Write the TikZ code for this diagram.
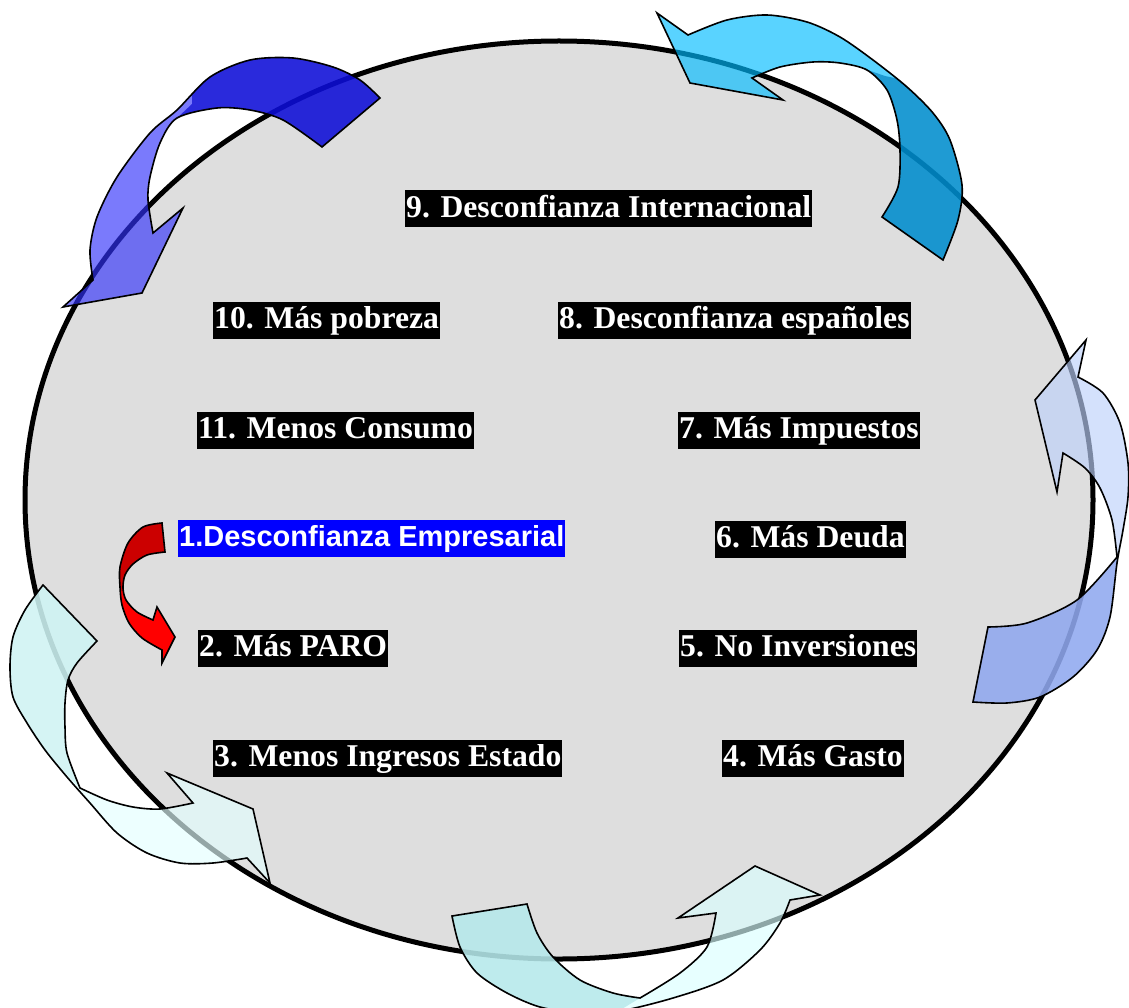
\documentclass[tikz,border=0pt]{standalone}
\usepackage{fontspec}
\setmainfont{Liberation Serif}
\setsansfont{Liberation Sans}
\definecolor{ellgray}{RGB}{222,222,222}
\definecolor{pureblue}{RGB}{0,0,255}
\definecolor{aTail}{RGB}{0,0,203}
\definecolor{aHead}{RGB}{50,50,251}
\definecolor{bTail}{RGB}{0,125,188}
\definecolor{bHead}{RGB}{0,188,255}
\definecolor{cTail}{RGB}{128,154,235}
\definecolor{cHead}{RGB}{189,209,251}
\definecolor{dTail}{RGB}{200,240,240}
\definecolor{dHead}{RGB}{228,255,255}
\definecolor{eTail}{RGB}{169,225,228}
\definecolor{eHead}{RGB}{218,255,255}
\definecolor{fTail}{RGB}{204,0,0}
\definecolor{fHead}{RGB}{255,0,0}
% outlines of the curved arrows, #1 = options of the path
\newcommand\arrowA[1]{\path[#1] (380,98) -- plot[smooth] coordinates {(380,98) (360,80) (333,67) (293,58) (250,60) (210,77) (177,110) (150,133) (117,177) (97,217) (90,250) (93,280)} -- (63,307) -- (142,293) -- (183,208) -- (153,233) -- plot[smooth] coordinates {(153,233) (148,200) (150,177) (160,143) (177,118) (217,108) (250,110) (283,120) (322,147)} -- cycle;}
\newcommand\arrowB[1]{\path[#1] (943,260) -- plot[smooth] coordinates {(943,260) (958,220) (962,185) (950,140) (933,113) (907,87) (873,60) (840,37) (807,22) (767,15) (727,20) (688,35)} -- (657,13) -- (690,83) -- (783,100) -- (752,78) -- plot[smooth] coordinates {(752,78) (780,67) (813,62) (840,63) (867,70) (887,90) (897,120) (900,150) (898,187) (882,217)} -- cycle;}
\newcommand\arrowC[1]{\path[#1] (1086,340) -- (1078,377) -- plot[smooth] coordinates {(1078,377) (1103,393) (1120,423) (1128,463) (1128,497) (1123,530) (1117,563) (1110,617) (1097,650) (1073,677) (1040,697) (1007,703) (973,702)} -- (988,627) -- plot[smooth] coordinates {(988,627) (1027,623) (1077,600) (1117,557)} -- plot[smooth] coordinates {(1117,557) (1112,520) (1100,488) (1085,468) (1063,453)} -- (1057,492) -- (1035,400) -- cycle;}
\newcommand\arrowD[1]{\path[#1] (43,585) -- plot[smooth] coordinates {(43,585) (25,610) (13,637) (10,667) (13,697) (27,723) (45,750) (67,777) (90,803) (117,833) (147,853) (180,863) (213,863) (247,858)} -- (270,883) -- (253,809) -- (167,773) -- (193,803) -- plot[smooth] coordinates {(193,803) (160,809) (133,807) (107,800) (80,788)} -- plot[smooth] coordinates {(80,788) (67,753) (65,727) (65,703) (68,680) (77,663) (97,641)} -- cycle;}
\newcommand\arrowE[1]{\path[#1] (452,916) -- plot[smooth] coordinates {(452,916) (460,947) (477,973) (507,993) (540,1007) (580,1013) (620,1011) (673,998) (723,980) (760,950) (780,923) (790,900)} -- (820,895) -- (755,866) -- (678,918) -- (716,913) -- plot[smooth] coordinates {(716,913) (707,947) (680,973) (640,998)} -- plot[smooth] coordinates {(640,998) (613,993) (580,980) (553,957) (537,933) (527,904)} -- cycle;}
\newcommand\arrowF[1]{\path[#1] (162,523) -- plot[smooth] coordinates {(162,523) (143,527) (128,543) (120,567) (120,587) (122,605) (129,623) (142,638) (162,650)} -- (162,663) -- (175,637) -- (157,607) -- (153,620) -- plot[smooth] coordinates {(153,620) (137,612) (126,600) (123,588) (125,575) (133,564) (147,555) (165,552)} -- cycle;}

\begin{document}
\begin{tikzpicture}[x=1pt, y=-1pt,
	etiqueta/.style={fill=black, text=white, anchor=west, inner xsep=1pt, inner ysep=2pt, text height=25pt, text depth=8pt, font=\fontsize{31.7}{36}\selectfont\bfseries},
	primera/.style={etiqueta, fill=pureblue, font=\fontsize{29}{34}\selectfont\sffamily\bfseries},
	banda/.style={fill opacity=0.65},
	borde/.style={draw, line width=1.6pt}]
			%%%%% START %%%%%
			\useasboundingbox (0,0) rectangle (1129,1008);
			
			\draw[line width=5pt, fill=ellgray] (559,500) ellipse [x radius=534, y radius=459];
			
			% arrow top left
			\arrowA{banda, fill=aHead}
			\begin{scope}
				\clip (175,120) -- (192,104) -- (192,30) -- (420,30) -- (420,170) -- (175,170) -- cycle;
				\arrowA{banda, fill=aTail}
			\end{scope}
			\arrowA{borde}
			
			% arrow top right
			\arrowB{banda, fill=bHead}
			\begin{scope}
				\clip (862,68) -- (885,76) -- (1000,100) -- (1000,300) -- (862,300) -- cycle;
				\arrowB{banda, fill=bTail}
			\end{scope}
			\arrowB{borde}
			
			% arrow right
			\arrowC{banda, fill=cHead}
			\begin{scope}
				\clip (960,610) -- (1117,557) -- (1135,550) -- (1135,720) -- (960,720) -- cycle;
				\arrowC{banda, fill=cTail}
			\end{scope}
			\arrowC{borde}
			
			% arrow bottom
			\arrowE{banda, fill=eHead}
			\begin{scope}
				\clip (430,870) -- (650,870) -- (640,998) -- (612,1015) -- (430,1015) -- cycle;
				\arrowE{banda, fill=eTail}
			\end{scope}
			\arrowE{borde}
			
			% arrow bottom left
			\arrowD{banda, fill=dHead}
			\begin{scope}
				\clip (0,560) -- (120,560) -- (120,780) -- (80,788) -- (40,748) -- (0,745) -- cycle;
				\arrowD{banda, fill=dTail}
			\end{scope}
			\arrowD{borde}
			
			% red arrow 1 -> 2
			\arrowF{fill=fHead}
			\begin{scope}
				\clip (100,500) rectangle (185,590);
				\arrowF{fill=fTail}
			\end{scope}
			\arrowF{borde}
			
			\node[etiqueta] (desconfInt) at (405,209) {9. Desconfianza Internacional};
			\node[etiqueta] (pobreza) at (213,320) {10. Más pobreza};
			\node[etiqueta] (desconfEsp) at (558,320) {8. Desconfianza españoles};
			\node[etiqueta] (consumo) at (197,430) {11. Menos Consumo};
			\node[etiqueta] (impuestos) at (678,430) {7. Más Impuestos};
			\node[primera] (desconfEmp) at (178,538) {1.Desconfianza Empresarial};
			\node[etiqueta] (deuda) at (715,539) {6. Más Deuda};
			\node[etiqueta] (paro) at (198,648) {2. Más PARO};
			\node[etiqueta] (inversiones) at (679,648) {5. No Inversiones};
			\node[etiqueta] (ingresos) at (213,758) {3. Menos Ingresos Estado};
			\node[etiqueta] (gasto) at (722,758) {4. Más Gasto};
			
			%%%%% END %%%%%
\end{tikzpicture}
\end{document}
